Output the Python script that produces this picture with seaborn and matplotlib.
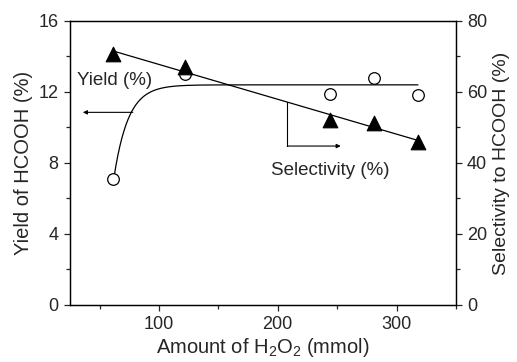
import numpy as np
import pandas as pd
import matplotlib.pyplot as plt
import seaborn as sns
from matplotlib.ticker import MultipleLocator

# data
h2o2 = [61, 122, 244, 281, 318]
yield_pct = [7.1, 13.0, 11.9, 12.8, 11.8]
selectivity = [70.7, 67.1, 52.1, 51.2, 46.0]

sns.set_style("ticks")
plt.rcParams['font.family'] = ['Liberation Sans', 'DejaVu Sans']
plt.rcParams['mathtext.fontset'] = 'custom'
plt.rcParams['mathtext.rm'] = 'Liberation Sans'

fig = plt.figure(figsize=(5.17, 3.62), dpi=100)
ax = fig.add_axes([0.135, 0.158, 0.747, 0.784])
ax2 = ax.twinx()

df = pd.DataFrame({'x': h2o2, 'y': yield_pct, 's': selectivity})

# yield: open circles + saturating guide curve
xc = np.linspace(62, 318, 300)
yc = 12.4 - 5.3 * np.exp(-(xc - 62) / 12.0)
sns.lineplot(x=xc, y=yc, ax=ax, color='black', lw=0.9)
sns.scatterplot(data=df, x='x', y='y', ax=ax, marker='o', s=70,
                facecolor='white', edgecolor='black', linewidth=0.9, zorder=3)

# selectivity: filled triangles + linear fit
k, b = np.polyfit(h2o2, selectivity, 1)
xl = np.array([61, 318])
sns.lineplot(x=xl, y=k * xl + b, ax=ax2, color='black', lw=0.9)
sns.scatterplot(data=df, x='x', y='s', ax=ax2, marker='^', s=110,
                color='black', edgecolor='black', zorder=3)

# annotations
ax.text(31, 12.65, 'Yield (%)', fontsize=13.5, va='center', ha='left')
ax.annotate('', xy=(36, 10.85), xytext=(78, 10.85),
            arrowprops=dict(arrowstyle='-|>', color='black', lw=0.8,
                            mutation_scale=6, shrinkA=0, shrinkB=0))
ax.text(244, 7.55, 'Selectivity (%)', fontsize=13.5, va='center', ha='center')
xv = 208
ax.plot([xv, xv], [(k * xv + b) / 5, 8.95], color='black', lw=0.8)
ax.annotate('', xy=(253, 8.95), xytext=(xv, 8.95),
            arrowprops=dict(arrowstyle='-|>', color='black', lw=0.8,
                            mutation_scale=6, shrinkA=0, shrinkB=0))

ax.set_xlim(25, 350)
ax.set_ylim(0, 16)
ax2.set_ylim(0, 80)
ax.xaxis.set_major_locator(MultipleLocator(100))
ax.xaxis.set_minor_locator(MultipleLocator(50))
ax.yaxis.set_major_locator(MultipleLocator(4))
ax.yaxis.set_minor_locator(MultipleLocator(2))
ax2.yaxis.set_major_locator(MultipleLocator(20))
ax2.yaxis.set_minor_locator(MultipleLocator(10))

for a in (ax, ax2):
    a.tick_params(which='major', length=4, width=0.9, labelsize=13, pad=4)
    a.tick_params(which='minor', length=3, width=0.9)
    for sp in a.spines.values():
        sp.set_linewidth(0.9)
        sp.set_color('black')

ax.set_xlabel('Amount of H$_2$O$_2$ (mmol)', fontsize=14.5, labelpad=2)
ax.set_ylabel('Yield of HCOOH (%)', fontsize=14.5, labelpad=4)
ax2.set_ylabel('Selectivity to HCOOH (%)', fontsize=14, labelpad=4)

fig.savefig('out.png', dpi=100)
